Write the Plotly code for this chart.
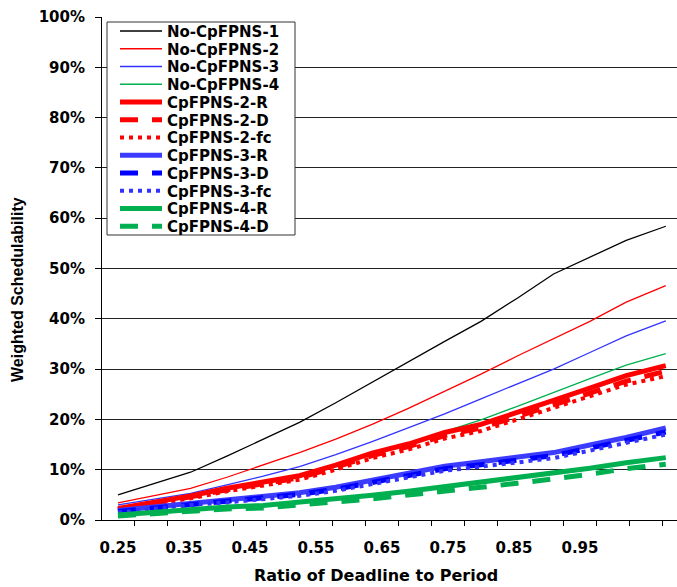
import plotly.graph_objects as go

# x positions (ratio of deadline to period)
ratio = [0.25, 0.305, 0.36, 0.415, 0.47, 0.525, 0.58, 0.635, 0.69, 0.745,
         0.80, 0.855, 0.91, 0.965, 1.02, 1.08]

# weighted schedulability (%)
no_cp_1 = [5.0, 7.2, 9.5, 12.7, 16.0, 19.4, 23.3, 27.4, 31.5, 35.5, 39.5, 44.1, 48.9, 52.3, 55.6, 58.4]
no_cp_2 = [3.4, 4.8, 6.3, 8.5, 11.0, 13.4, 16.1, 19.0, 22.2, 25.6, 29.0, 32.6, 36.1, 39.5, 43.3, 46.6]
no_cp_3 = [3.0, 4.1, 5.3, 7.0, 8.7, 10.6, 13.0, 15.6, 18.3, 21.1, 24.1, 27.0, 30.0, 33.3, 36.6, 39.6]
no_cp_4 = [2.5, 3.7, 5.0, 6.5, 7.7, 9.0, 11.1, 13.5, 15.3, 17.6, 19.9, 22.6, 25.4, 28.1, 30.8, 33.1]
cp2_r = [2.3, 3.5, 4.8, 6.3, 7.5, 8.8, 10.9, 13.3, 15.1, 17.4, 19.0, 21.5, 23.8, 26.2, 28.7, 30.7]
cp2_d = [2.1, 3.3, 4.6, 6.0, 7.2, 8.4, 10.5, 12.8, 14.6, 16.8, 18.3, 20.7, 22.9, 25.2, 27.6, 29.6]
cp2_fc = [2.0, 3.1, 4.3, 5.7, 6.8, 8.0, 10.0, 12.3, 14.0, 16.2, 17.7, 20.1, 22.3, 24.6, 26.9, 28.6]
cp3_r = [1.9, 2.6, 3.4, 4.0, 4.6, 5.4, 6.5, 7.9, 9.3, 10.7, 11.6, 12.6, 13.4, 14.9, 16.4, 18.3]
cp3_d = [1.7, 2.4, 3.2, 3.8, 4.4, 5.1, 6.1, 7.5, 8.8, 10.2, 11.0, 12.0, 12.8, 14.3, 15.8, 17.5]
cp3_fc = [1.5, 2.2, 3.0, 3.5, 4.1, 4.8, 5.8, 7.1, 8.4, 9.8, 10.6, 11.5, 12.3, 13.8, 15.3, 17.0]
cp4_r = [1.0, 1.6, 2.2, 2.6, 2.9, 3.5, 4.3, 4.9, 5.7, 6.6, 7.4, 8.3, 9.2, 10.3, 11.4, 12.4]
cp4_d = [0.8, 1.3, 1.8, 2.2, 2.4, 2.9, 3.6, 4.2, 4.9, 5.7, 6.5, 7.3, 8.1, 9.1, 10.2, 11.1]

tick_labels = ["0.25", "0.35", "0.45", "0.55", "0.65", "0.75", "0.85", "0.95"]
tick_label_pos = [0.25, 0.35, 0.45, 0.55, 0.65, 0.75, 0.85, 0.95]
tick_mark_pos = [0.225, 0.275, 0.325, 0.375, 0.425, 0.475, 0.525, 0.575, 0.625,
                 0.675, 0.725, 0.775, 0.825, 0.875, 0.925, 0.975, 1.025, 1.075]
y_ticks = [0, 10, 20, 30, 40, 50, 60, 70, 80, 90, 100]

series = [
    ("No-CpFPNS-1", no_cp_1, "#000000", 1.3, "solid"),
    ("No-CpFPNS-2", no_cp_2, "#ff0000", 1.3, "solid"),
    ("No-CpFPNS-3", no_cp_3, "#3333ff", 1.3, "solid"),
    ("No-CpFPNS-4", no_cp_4, "#00b050", 1.3, "solid"),
    ("CpFPNS-2-R", cp2_r, "#ff0000", 5, "solid"),
    ("CpFPNS-2-D", cp2_d, "#ff0000", 5, "18px,14px"),
    ("CpFPNS-2-fc", cp2_fc, "#ff0000", 4, "4px,5px"),
    ("CpFPNS-3-R", cp3_r, "#3c3cff", 5, "solid"),
    ("CpFPNS-3-D", cp3_d, "#0000ff", 5, "18px,14px"),
    ("CpFPNS-3-fc", cp3_fc, "#3333ff", 4, "4px,5px"),
    ("CpFPNS-4-R", cp4_r, "#00b050", 5, "solid"),
    ("CpFPNS-4-D", cp4_d, "#00b050", 5, "18px,14px"),
]

W, H = 677, 587
ML, MR, MT, MB = 102, 0, 17, 67
PW, PH = W - ML - MR, H - MT - MB

fig = go.Figure()
legend_font = dict(family="DejaVu Sans", size=15, color="black", weight="bold")
layout_legends = {}
for i, (name, vals, color, width, dash) in enumerate(series):
    key = "legend" if i == 0 else f"legend{i + 1}"
    fig.add_trace(go.Scatter(
        x=ratio, y=vals, mode="lines", name=name,
        line=dict(color=color, width=width, dash=dash),
        legend=key, hoverinfo="skip",
    ))
    center_px = 31 + 17.75 * i
    top_px = center_px - 16.25
    layout_legends[key] = dict(
        x=(115 - ML) / PW, xanchor="left",
        y=1 - (top_px - MT) / PH, yanchor="top",
        bgcolor="rgba(0,0,0,0)", borderwidth=0,
        font=legend_font, itemwidth=42,
    )

fig.update_layout(**layout_legends)

fig.add_shape(type="rect", xref="paper", yref="paper",
              x0=(107 - ML) / PW, x1=(295 - ML) / PW,
              y0=1 - (235 - MT) / PH, y1=1 - (22 - MT) / PH,
              line=dict(color="#333333", width=1), fillcolor="white", layer="above")

tick_font = dict(family="DejaVu Sans", size=15, color="black", weight="bold")

fig.update_layout(
    width=W, height=H,
    margin=dict(l=ML, r=MR, t=MT, b=MB, autoexpand=False),
    paper_bgcolor="white", plot_bgcolor="white",
    showlegend=True,
    xaxis=dict(
        range=[0.2258, 1.097], automargin=False,
        tickmode="array", tickvals=tick_label_pos, ticktext=tick_labels,
        ticks="", ticklen=0, ticklabelstandoff=14,
        tickfont=tick_font,
        showgrid=False, zeroline=False,
        showline=True, linecolor="black", linewidth=1,
        minor=dict(tickmode="array", tickvals=tick_mark_pos, ticks="outside",
                   ticklen=5, tickcolor="black", tickwidth=1, showgrid=False),
    ),
    yaxis=dict(
        range=[0, 100], automargin=False, tickmode="array", tickvals=y_ticks,
        ticktext=[f"{v}%" for v in y_ticks],
        ticks="outside", ticklen=6, tickcolor="black",
        ticklabelstandoff=7, tickfont=tick_font,
        showgrid=True, gridcolor="#222222", gridwidth=1,
        zeroline=False, showline=True, linecolor="black", linewidth=1,
    ),
    annotations=[
        dict(text="Ratio of Deadline to Period", xref="paper", yref="paper",
             x=(376 - ML) / PW, y=0, xanchor="center", yanchor="middle",
             yshift=-(575 - (H - MB)), showarrow=False,
             font=dict(family="DejaVu Sans", size=16, color="black", weight="bold")),
        dict(text="Weighted Schedulability", xref="paper", yref="paper",
             x=0, y=1 - (290 - MT) / PH, xanchor="center", yanchor="middle",
             xshift=17 - ML, textangle=-90, showarrow=False,
             font=dict(family="Liberation Sans", size=16, color="black", weight="bold")),
    ],
)

fig.write_html(
    "out.html",
    config={"displayModeBar": False},
    post_script="document.body.style.margin='0';document.body.style.overflow='hidden';",
)
